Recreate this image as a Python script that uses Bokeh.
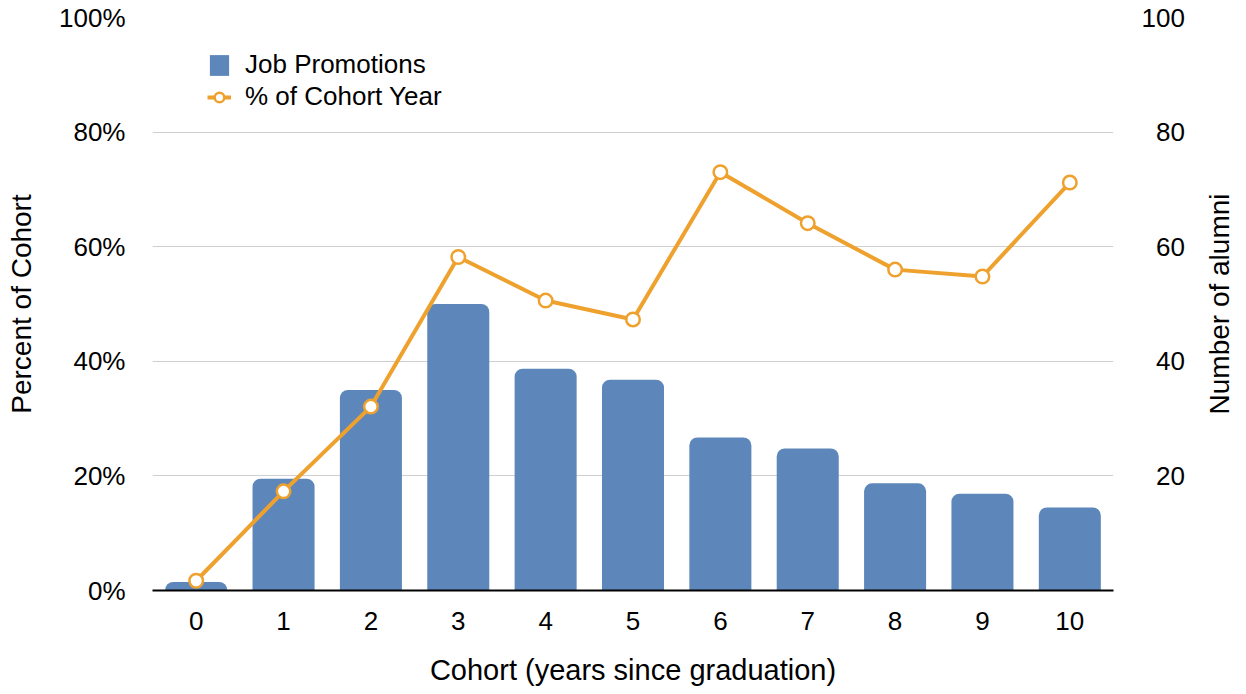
from bokeh.plotting import figure
from bokeh.layouts import row
from bokeh.models import (Range1d, LinearAxis, FixedTicker, PrintfTickFormatter,
                          CustomJSTickFormatter, Legend, LegendItem, FactorRange)
from bokeh.embed import file_html
from bokeh.resources import INLINE

# ---- data ----
categories = ["0", "1", "2", "3", "4", "5", "6", "7", "8", "9", "10"]
promotions = [1.5, 19.5, 35.0, 50.0, 38.7, 36.8, 26.7, 24.8, 18.7, 16.9, 14.5]   # Number of alumni
pct_cohort = [1.7, 17.3, 32.1, 58.2, 50.6, 47.3, 73.0, 64.1, 56.0, 54.8, 71.2]   # % of cohort year
left_ticks = [0, 20, 40, 60, 80, 100]
right_ticks = [20, 40, 60, 80, 100]

FONT = "Liberation Sans"
BLUE = "#5D87BA"
ORANGE = "#EFA12E"

p = figure(width=1200, height=694,
           x_range=FactorRange(*categories), y_range=Range1d(0, 100),
           output_backend="svg", toolbar_location=None,
           min_border_left=152, min_border_right=87,
           min_border_top=17, min_border_bottom=104)
p.extra_y_ranges = {"alumni": Range1d(0, 100)}
p.outline_line_color = None
p.background_fill_color = "white"
p.border_fill_color = "white"
p.xgrid.grid_line_color = None
p.ygrid.grid_line_color = "#cfcfcf"
p.ygrid.grid_line_width = 1

# left axis
ya = p.yaxis[0]
ya.ticker = FixedTicker(ticks=left_ticks)
ya.formatter = PrintfTickFormatter(format="%d%%")
ya.axis_line_color = None
ya.major_tick_line_color = None
ya.minor_tick_line_color = None
ya.major_tick_in = 0
ya.major_tick_out = 0
ya.major_label_standoff = 27
ya.major_label_text_font = FONT
ya.major_label_text_font_size = "26px"
ya.major_label_text_color = "black"
ya.axis_label = "Percent of Cohort"
ya.axis_label_text_font = FONT
ya.axis_label_text_font_size = "28px"
ya.axis_label_text_font_style = "normal"
ya.axis_label_text_color = "black"
ya.axis_label_standoff = 19

# right axis (tick labels only; its title sits in the narrow panel to the right)
ra = LinearAxis(y_range_name="alumni",
                ticker=FixedTicker(ticks=right_ticks),
                formatter=CustomJSTickFormatter(code="return String(tick).padStart(3, '\\u2007');"))
ra.axis_line_color = None
ra.major_tick_line_color = None
ra.minor_tick_line_color = None
ra.major_tick_in = 0
ra.major_tick_out = 0
ra.major_label_standoff = 28
ra.major_label_text_font = FONT
ra.major_label_text_font_size = "26px"
ra.major_label_text_color = "black"
p.add_layout(ra, "right")

# x axis
xa = p.xaxis[0]
xa.axis_line_color = "black"
xa.axis_line_width = 2
xa.major_tick_line_color = None
xa.minor_tick_line_color = None
xa.major_tick_in = 0
xa.major_tick_out = 0
xa.major_label_standoff = 21
xa.major_label_text_font = FONT
xa.major_label_text_font_size = "26px"
xa.major_label_text_color = "black"
xa.axis_label = "Cohort (years since graduation)"
xa.axis_label_text_font = FONT
xa.axis_label_text_font_size = "29px"
xa.axis_label_text_font_style = "normal"
xa.axis_label_text_color = "black"
xa.axis_label_standoff = 21

# glyphs
bars = p.vbar(x=categories, top=promotions, width=0.71, y_range_name="alumni",
              fill_color=BLUE, line_color=None, border_radius=(8, 8, 0, 0))
line = p.line(x=categories, y=pct_cohort, line_color=ORANGE, line_width=4)
pts = p.scatter(x=categories, y=pct_cohort, size=13.5, marker="circle",
                fill_color="white", line_color=ORANGE, line_width=2.5)

legend = Legend(items=[LegendItem(label="Job Promotions", renderers=[bars]),
                       LegendItem(label="% of Cohort Year", renderers=[line, pts])],
                location=(55, 478))
legend.background_fill_alpha = 0
legend.border_line_color = None
legend.padding = 0
legend.margin = 0
legend.spacing = 1
legend.glyph_width = 24
legend.glyph_height = 26
legend.label_height = 29
legend.label_standoff = 14
legend.label_text_font = FONT
legend.label_text_font_size = "26px"
legend.label_text_color = "black"
p.add_layout(legend)

# narrow panel carrying the right-hand axis title (reads bottom-to-top)
p2 = figure(width=46, height=694, x_range=Range1d(0, 1), y_range=Range1d(0, 100),
            output_backend="svg", toolbar_location=None,
            min_border_left=36, min_border_right=0,
            min_border_top=17, min_border_bottom=104)
p2.outline_line_color = None
p2.background_fill_color = "white"
p2.border_fill_color = "white"
p2.grid.visible = False
p2.xaxis.visible = False
ta = p2.yaxis[0]
ta.ticker = FixedTicker(ticks=[])
ta.axis_line_color = None
ta.major_tick_line_color = None
ta.minor_tick_line_color = None
ta.major_tick_in = 0
ta.major_tick_out = 0
ta.axis_label = "Number of alumni"
ta.axis_label_text_font = FONT
ta.axis_label_text_font_size = "28px"
ta.axis_label_text_font_style = "normal"
ta.axis_label_text_color = "black"
ta.axis_label_standoff = 2

layout = row(p, p2, spacing=0)
open("out.html", "w").write(file_html(layout, INLINE))
